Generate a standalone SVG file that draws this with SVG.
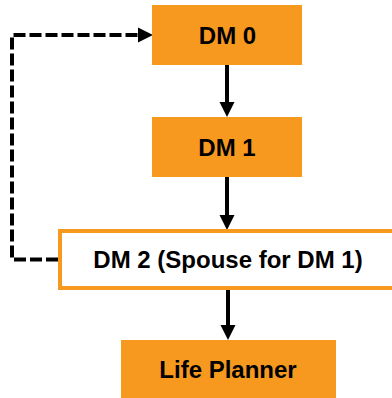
<svg xmlns="http://www.w3.org/2000/svg" width="392" height="398" viewBox="0 0 392 398">
  <style>
    .box { fill: #F7981F; }
    .outline { fill: #FFFFFF; stroke: #F7981F; stroke-width: 4; }
    .label { font-family: "Liberation Sans", Arial, sans-serif; font-weight: bold; font-size: 24px; fill: #000000; text-anchor: middle; }
    .flow { stroke: #000000; stroke-width: 4; fill: none; }
    .loop { stroke: #000000; stroke-width: 4; fill: none; stroke-dasharray: 12 4; }
  </style>
  <defs>
    <marker id="head" markerUnits="userSpaceOnUse" markerWidth="16" markerHeight="16" refX="0" refY="7.5" orient="auto" overflow="visible">
      <path d="M0,0 L15,7.5 L0,15 z" fill="#000000"/>
    </marker>
  </defs>
  <rect width="392" height="398" fill="#FFFFFF"/>

  <g id="connectors">
    <line class="flow" x1="227" y1="65" x2="227" y2="102" marker-end="url(#head)"/>
    <line class="flow" x1="227" y1="177" x2="227" y2="215" marker-end="url(#head)"/>
    <line class="flow" x1="228" y1="289" x2="228" y2="325" marker-end="url(#head)"/>
    <path class="loop" d="M58,259.5 H12 V35 H138" marker-end="url(#head)"/>
  </g>

  <g id="dm0">
    <rect class="box" x="152" y="5" width="150" height="60"/>
    <text class="label" x="227.5" y="44">DM 0</text>
  </g>

  <g id="dm1">
    <rect class="box" x="152" y="117" width="150" height="60"/>
    <text class="label" x="227" y="155.5">DM 1</text>
  </g>

  <g id="dm2">
    <rect class="outline" x="60" y="231" width="336" height="57"/>
    <text class="label" x="228" y="268">DM 2 (Spouse for DM 1)</text>
  </g>

  <g id="life-planner">
    <rect class="box" x="121" y="340" width="215" height="58"/>
    <text class="label" x="228" y="378">Life Planner</text>
  </g>
</svg>
